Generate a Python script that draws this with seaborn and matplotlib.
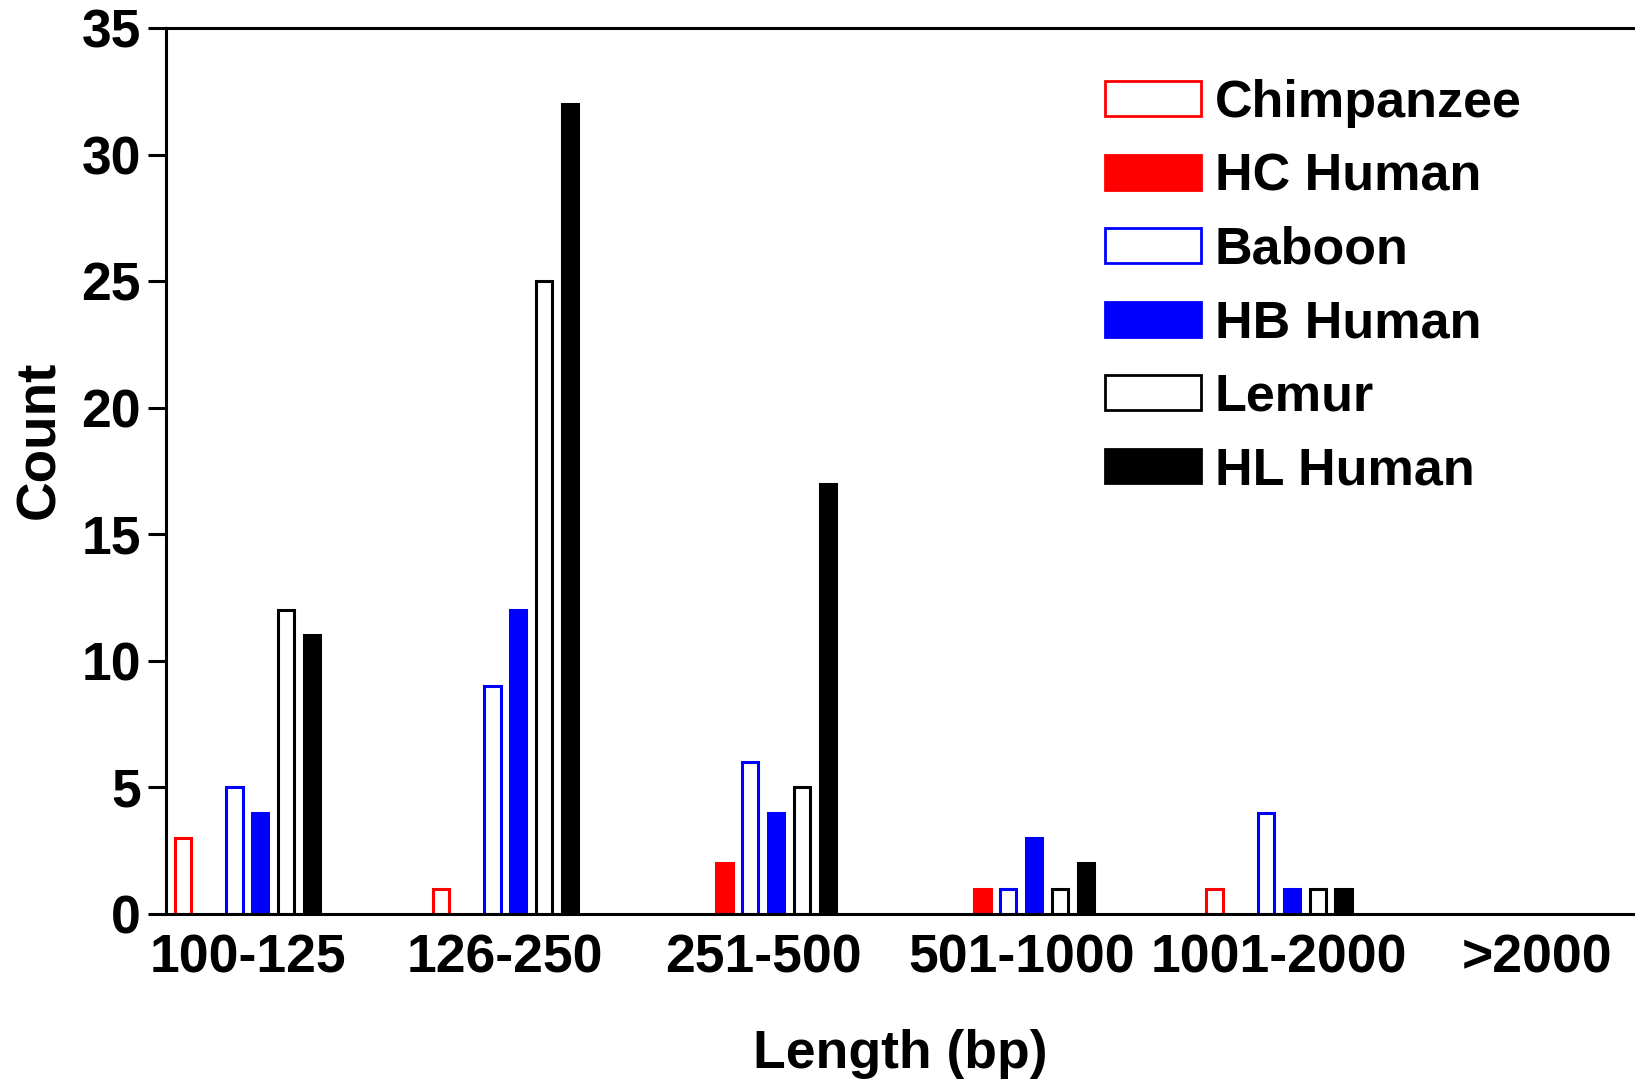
import pandas as pd
import matplotlib.pyplot as plt
from matplotlib.patches import Patch
import seaborn as sns

# length bins and counts
lengths = ["100-125", "126-250", "251-500", "501-1000", "1001-2000", ">2000"]
species = ["Chimpanzee", "HC Human", "Baboon", "HB Human", "Lemur", "HL Human"]
chimpanzee = [3, 1, 0, 0, 1, 0]
hc_human = [0, 0, 2, 1, 0, 0]
baboon = [5, 9, 6, 1, 4, 0]
hb_human = [4, 12, 4, 3, 1, 0]
lemur = [12, 25, 5, 1, 1, 0]
hl_human = [11, 32, 17, 2, 1, 0]

colors = ["red", "red", "blue", "blue", "black", "black"]
filled = [False, True, False, True, False, True]

counts = [chimpanzee, hc_human, baboon, hb_human, lemur, hl_human]
rows = []
for sp, vals in zip(species, counts):
    for L, v in zip(lengths, vals):
        rows.append({"Length": L, "Species": sp, "Count": v})
df = pd.DataFrame(rows)

sns.set_style("ticks")
plt.rcParams['font.family'] = ['Liberation Sans', 'DejaVu Sans']
plt.rcParams['font.weight'] = 'bold'
plt.rcParams['text.color'] = 'black'
plt.rcParams['axes.labelcolor'] = 'black'

FS = 38.5

fig = plt.figure(figsize=(16.35, 10.84), dpi=100)
ax = fig.add_axes([0.1015, 0.157, 0.8985, 0.817])

sns.barplot(data=df, x="Length", y="Count", hue="Species", order=lengths,
            hue_order=species, palette=dict(zip(species, colors)),
            saturation=1, width=0.6, gap=0.37, legend=False, ax=ax)

# open vs. filled bars, hide the empty ones
for cont, col, fl in zip(ax.containers, colors, filled):
    for bar in cont:
        bar.set_edgecolor(col)
        bar.set_facecolor(col if fl else "white")
        bar.set_linewidth(2.2)
        if bar.get_height() == 0:
            bar.set_visible(False)

ax.set_ylim(0, 35)
ax.set_yticks(range(0, 36, 5))
ax.set_xlim(-0.316, 5.38)

ax.spines['right'].set_visible(False)
for s in ['left', 'bottom', 'top']:
    ax.spines[s].set_linewidth(2.2)
    ax.spines[s].set_color('black')

ax.tick_params(axis='y', length=13, width=2.2, pad=5, labelsize=FS, colors='black')
ax.tick_params(axis='x', length=0, pad=14, labelsize=FS, colors='black')
for lab in ax.get_xticklabels() + ax.get_yticklabels():
    lab.set_fontweight('bold')

ax.set_xlabel("Length (bp)", fontsize=FS, fontweight='bold', labelpad=33)
ax.set_ylabel("Count", fontsize=FS + 1, fontweight='bold')
ax.yaxis.set_label_coords(-0.068, 0.535)

handles = [Patch(facecolor=(c if f else "white"), edgecolor=c, linewidth=2)
           for c, f in zip(colors, filled)]
ax.legend(handles, species, loc='upper left', bbox_to_anchor=(1105 / 1635, 1 - 79 / 1084),
          bbox_transform=fig.transFigure, frameon=False,
          prop={'weight': 'bold', 'size': 37.5}, handlelength=1.85, handleheight=0.65,
          handletextpad=0.26, labelspacing=0.47, borderpad=0, borderaxespad=0)

fig.savefig("out.png", dpi=100)
